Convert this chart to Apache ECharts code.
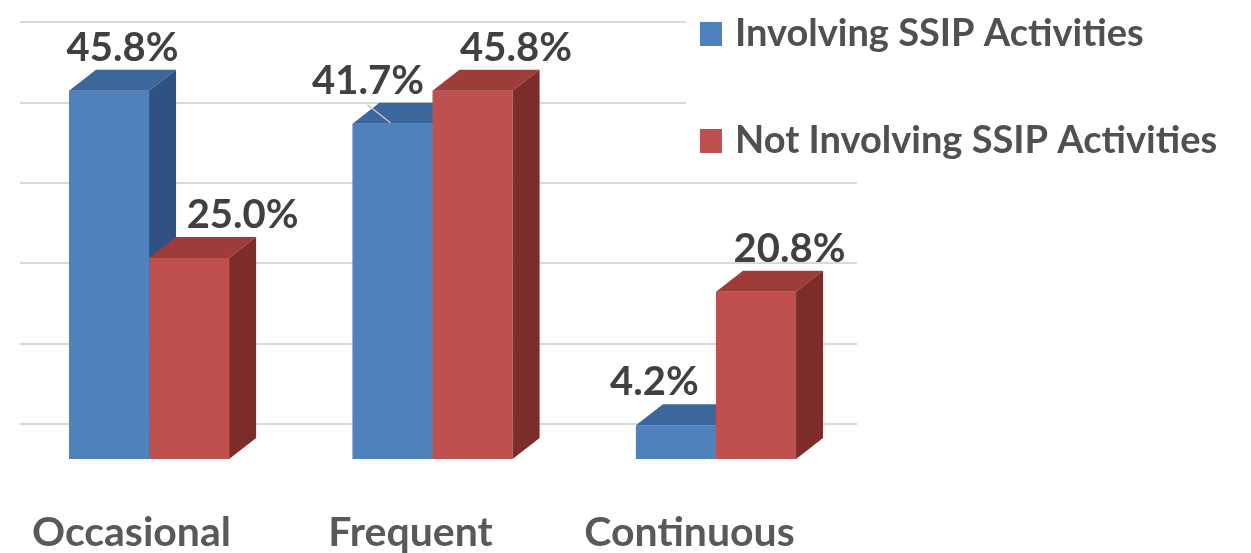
<!DOCTYPE html>
<html>
<head>
<meta charset="utf-8">
<script src="https://cdn.jsdelivr.net/npm/echarts@6/dist/echarts.min.js"></script>
<style>
  html, body { margin: 0; padding: 0; background: #fff; }
  #main { width: 1251px; height: 553px; }
</style>
</head>
<body>
<div id="main"></div>
<script>
  var categories = ['Occasional', 'Frequent', 'Continuous'];
  var seriesNames = ['Involving SSIP Activities', 'Not Involving SSIP Activities'];
  var involving = [45.8, 41.7, 4.2];
  var notInvolving = [25.0, 45.8, 20.8];

  // face colours: front, top, side
  var faces = [
    ['#4f81bd', '#3c679d', '#2f5282'],
    ['#c0504d', '#9d3c39', '#7e2c2a']
  ];
  // depth of the box and where the bars stand in front of the back wall
  var depthX = 27, depthY = -21, floorY = 35;
  // front plane is a bit wider than the back wall (perspective)
  var persp = 1.016, shiftX = -13;
  // hand placed value labels, like the original
  var labelNudge = [[0, -38, -35], [40, 30, 20]];

  var myChart = echarts.init(document.getElementById('main'));

  function renderBar(params, api) {
    var s = params.seriesIndex;
    var idx = api.value(0);
    var base = api.coord([idx, 0]);
    var top = api.coord([idx, api.value(1)]);
    var w = api.size([1, 0])[0] * 0.287;
    var cx = base[0] * persp + shiftX;
    var x0 = s === 0 ? cx - w : cx;
    var yb = base[1] + floorY;
    var yt = top[1] + floorY;
    var c = faces[s];
    var children = [
      {
        type: 'rect',
        shape: {x: x0, y: yt, width: w, height: yb - yt},
        style: {fill: c[0]}
      },
      {
        type: 'polygon',
        shape: {points: [[x0, yt], [x0 + w, yt], [x0 + w + depthX, yt + depthY], [x0 + depthX, yt + depthY]]},
        style: {fill: c[1]}
      },
      {
        type: 'polygon',
        shape: {points: [[x0 + w, yt], [x0 + w, yb], [x0 + w + depthX, yb + depthY], [x0 + w + depthX, yt + depthY]]},
        style: {fill: c[2]}
      },
      {
        type: 'text',
        style: {
          x: x0 + (w + depthX) / 2 + labelNudge[s][idx],
          y: yt + depthY - 22,
          text: api.value(1).toFixed(1) + '%',
          fill: '#404040',
          font: 'bold 40px Lato',
          align: 'center',
          verticalAlign: 'middle'
        }
      }
    ];
    // leader line on the one label that was dragged onto the bar
    if (s === 0 && idx === 1) {
      children.push({
        type: 'line',
        shape: {x1: x0 + 15, y1: yt - 19, x2: x0 + 38, y2: yt - 1},
        style: {stroke: '#c8c8c8', lineWidth: 1.5}
      });
    }
    return {type: 'group', children: children};
  }

  function toData(arr) {
    var out = [];
    for (let i in arr) {
      out.push([Number(i), arr[i]]);
    }
    return out;
  }

  myChart.setOption({
    animation: false,
    grid: {
      left: 20,
      right: 394,
      top: 22,
      bottom: 127
    },
    legend: {
      data: seriesNames,
      orient: 'vertical',
      left: 686,
      top: 0,
      icon: 'rect',
      itemWidth: 22,
      itemHeight: 24,
      itemGap: 63,
      backgroundColor: '#fff',
      padding: [12, 10, 10, 14],
      textStyle: {
        fontFamily: 'Lato',
        fontWeight: 'bold',
        fontSize: 38,
        lineHeight: 44,
        color: '#505050',
        padding: [0, 0, 0, 8]
      }
    },
    xAxis: {
      type: 'category',
      data: categories,
      axisLine: {show: false},
      axisTick: {show: false},
      axisLabel: {
        margin: 88,
        fontFamily: 'Lato',
        fontWeight: 'bold',
        fontSize: 41,
        color: '#595959',
        padding: [0, 56, 0, 0]
      }
    },
    yAxis: {
      type: 'value',
      min: 0,
      max: 50,
      interval: 10,
      axisLabel: {show: false},
      axisLine: {show: false},
      axisTick: {show: false},
      splitLine: {
        lineStyle: {color: '#d9d9d9', width: 2}
      }
    },
    series: [
      {
        name: seriesNames[0],
        type: 'custom',
        renderItem: renderBar,
        clip: false,
        itemStyle: {color: faces[0][0]},
        data: toData(involving)
      },
      {
        name: seriesNames[1],
        type: 'custom',
        renderItem: renderBar,
        clip: false,
        itemStyle: {color: faces[1][0]},
        data: toData(notInvolving)
      }
    ]
  });
</script>
</body>
</html>
